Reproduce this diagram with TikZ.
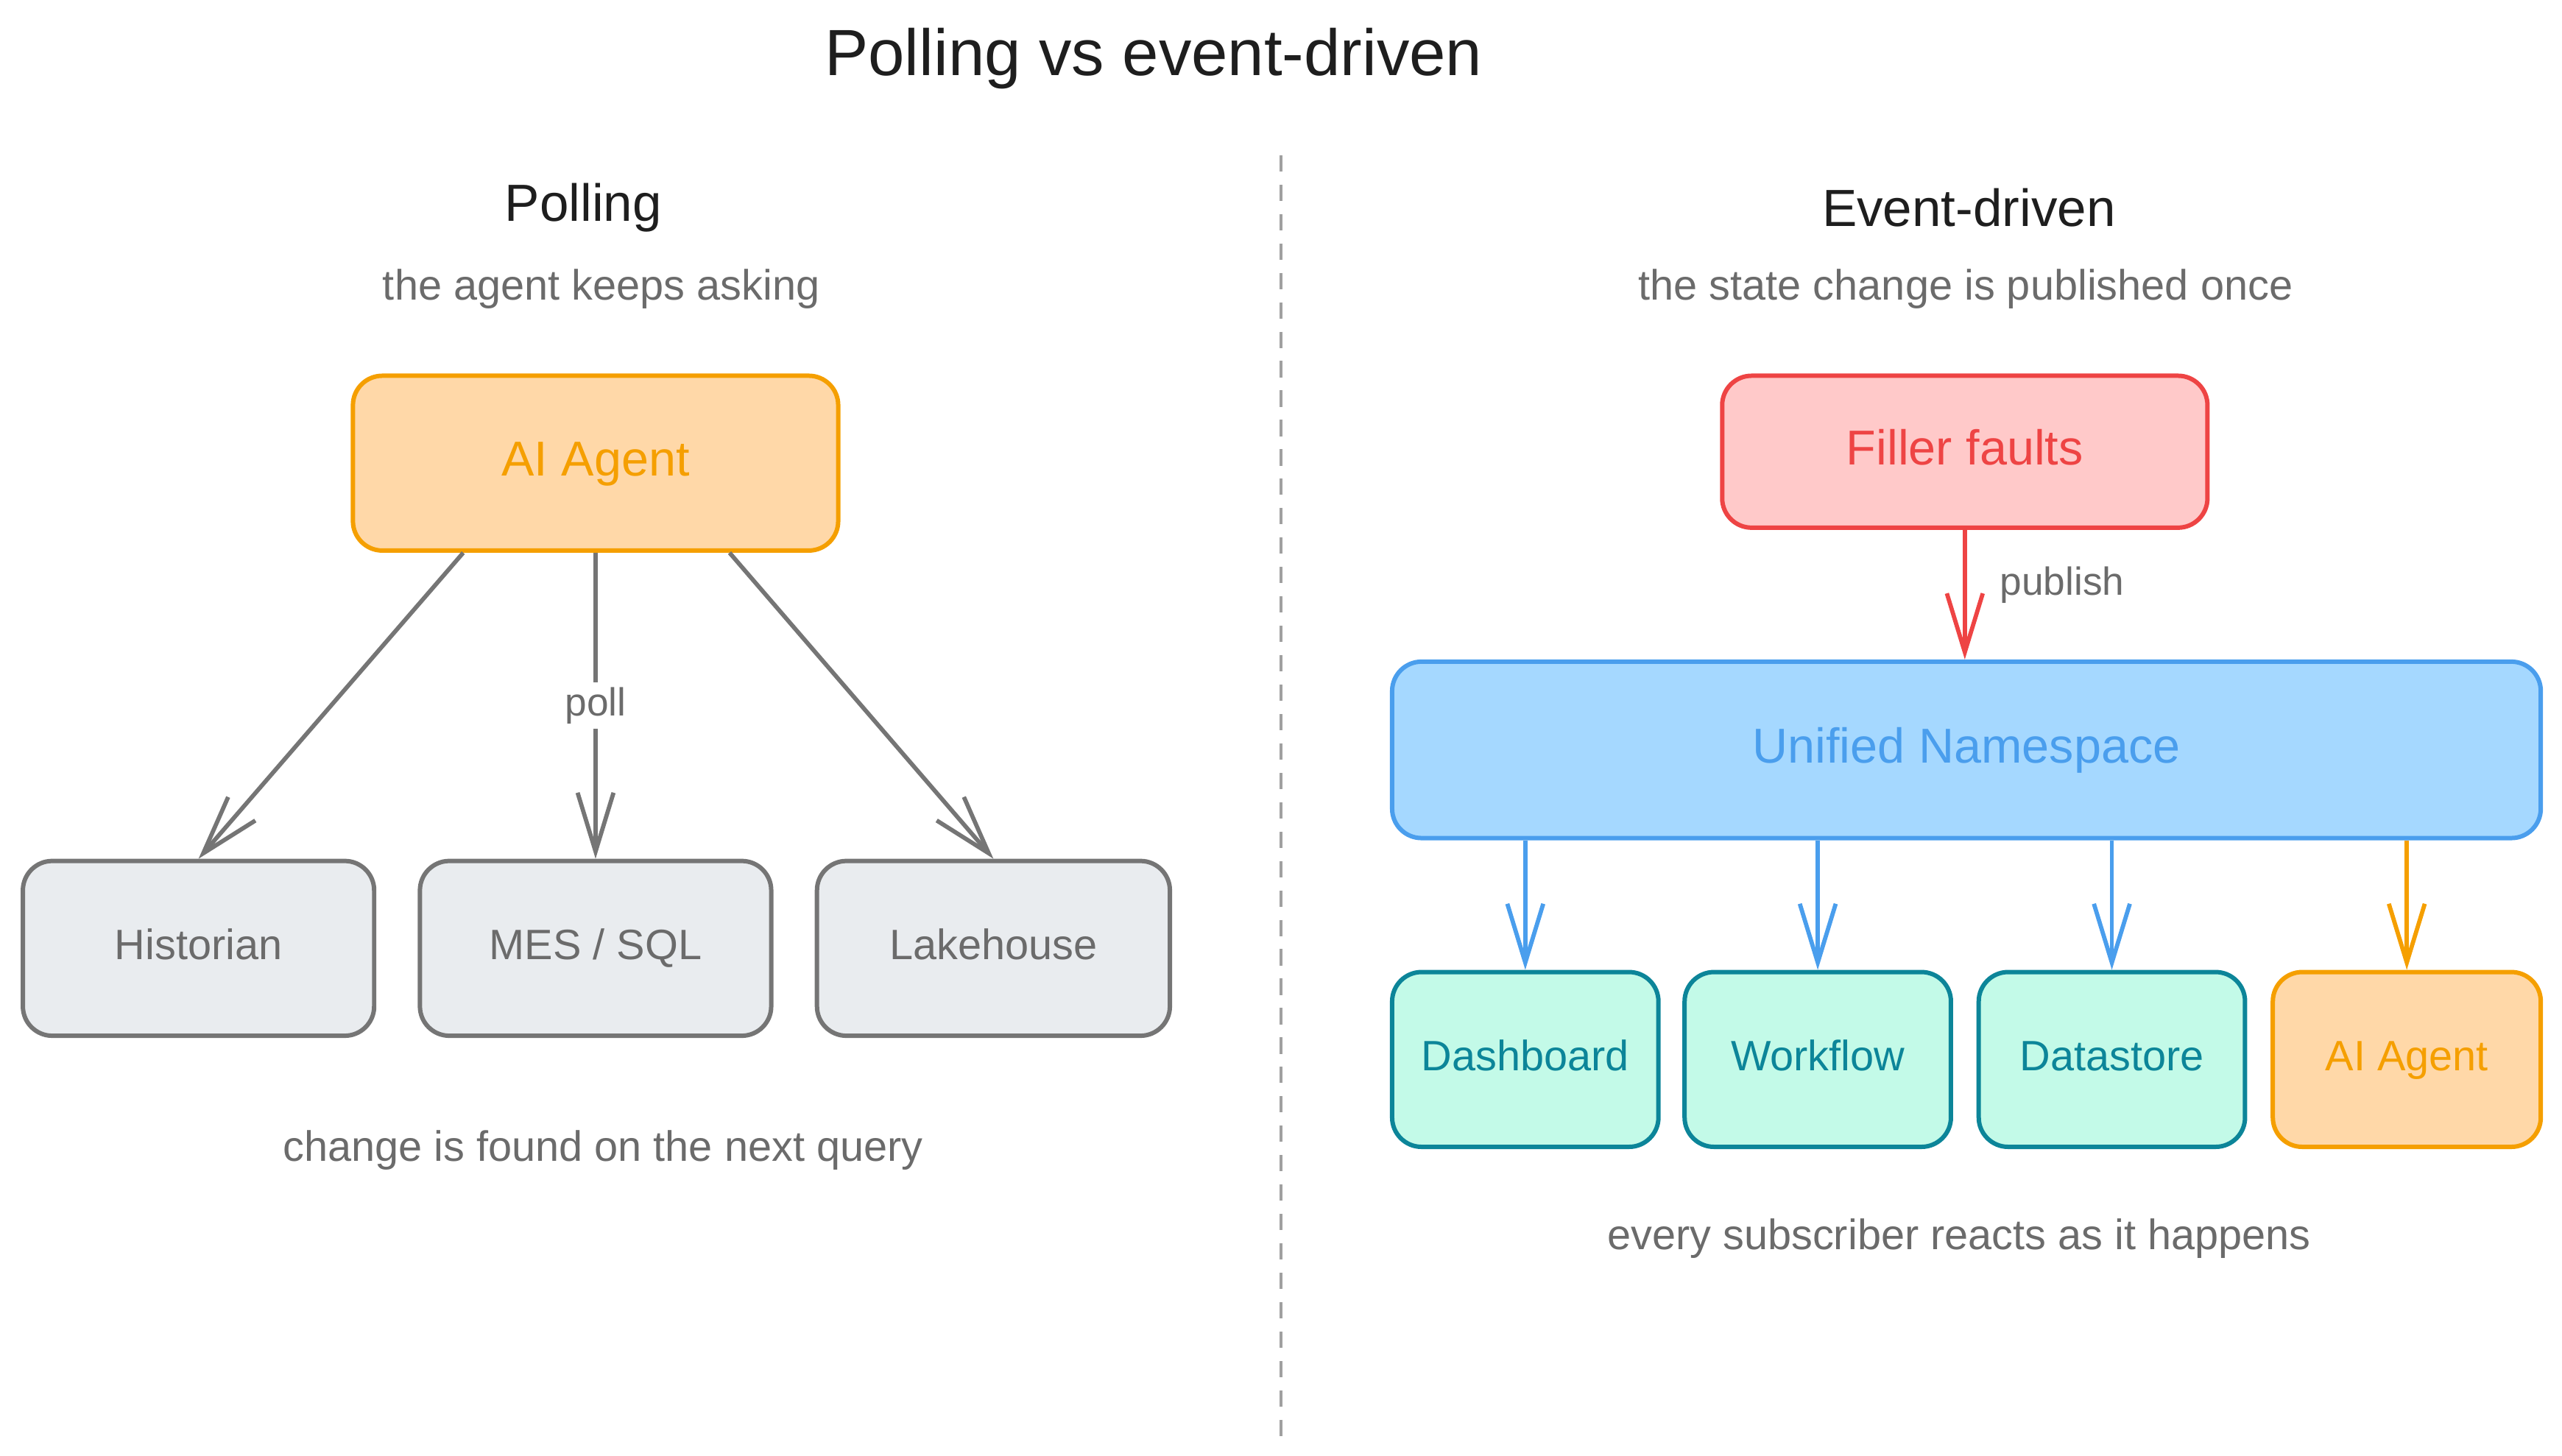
\documentclass[tikz,border=0pt]{standalone}
\usepackage{fontspec}
\setmainfont{Liberation Sans}
\usetikzlibrary{arrows.meta}
\definecolor{ink}{HTML}{1E1E1E}
\definecolor{grayt}{HTML}{6B6B6B}
\definecolor{grays}{HTML}{757575}
\definecolor{grayf}{HTML}{E9ECEF}
\definecolor{orans}{HTML}{F59F00}
\definecolor{oranf}{HTML}{FFD8A8}
\definecolor{reds}{HTML}{EE4444}
\definecolor{redf}{HTML}{FFC9C9}
\definecolor{blues}{HTML}{4A9EED}
\definecolor{bluef}{HTML}{A5D8FF}
\definecolor{teals}{HTML}{0C8599}
\definecolor{tealf}{HTML}{C3FAE8}
\definecolor{dashc}{HTML}{A0A0A0}
\tikzset{
  box/.style={draw, rounded corners=18pt, line width=2.7pt, inner sep=0pt, align=center, text height=19pt, text depth=5pt},
  graybox/.style={box, draw=grays, fill=grayf, text=grayt, font=\fontsize{26}{30}\selectfont, minimum height=107pt},
  orangebox/.style={box, draw=orans, fill=oranf, text=orans},
  tealbox/.style={box, draw=teals, fill=tealf, text=teals, font=\fontsize{26}{30}\selectfont, minimum width=163pt, minimum height=107pt},
  conn/.style={line width=2.6pt, -{Straight Barb[length=36pt,width=22pt,line width=2.6pt]}},
  heading/.style={text=ink, font=\fontsize{32}{36}\selectfont},
  subt/.style={text=grayt, font=\fontsize{26}{30}\selectfont},
  lbl/.style={text=grayt, font=\fontsize{24}{28}\selectfont, fill=white, inner sep=3pt},
}
\begin{document}
\begin{tikzpicture}[x=1pt,y=-1pt]
\useasboundingbox (0,0) rectangle (1568,891);
% title
\node[text=ink, font=\fontsize{40}{46}\selectfont] (title) at (706,36) {Polling vs event-driven};
% divider
\coordinate (divtop) at (784,95);
\coordinate (divbot) at (784,880);
\draw[dashc, line width=1.6pt, dash pattern=on 10pt off 8pt] (divtop) -- (divbot);
% left panel
\node[heading] (lhead) at (357,127) {Polling};
\node[subt] (lsub) at (368,177) {the agent keeps asking};
\node[orangebox, font=\fontsize{30}{34}\selectfont, text height=22pt, text depth=6pt, minimum width=297pt, minimum height=107pt] (agent) at (364.5,283.5) {AI Agent};
\node[graybox, minimum width=215pt] (hist) at (121.5,580.5) {Historian};
\node[graybox, minimum width=215pt] (mes) at (364.5,580.5) {MES / SQL};
\node[graybox, minimum width=216pt] (lake) at (608,580.5) {Lakehouse};
\draw[conn, grays] ([xshift=-81pt]agent.south) -- (hist.north);
\draw[conn, grays] (agent.south) -- node[lbl] (poll) {poll} (mes.north);
\draw[conn, grays] ([xshift=82pt]agent.south) -- (lake.north);
\node[subt] (lcap) at (369,704) {change is found on the next query};
% right panel
\node[heading] (rhead) at (1205,127) {Event-driven};
\node[subt] (rsub) at (1203,177) {the state change is published once};
\node[box, draw=reds, fill=redf, text=reds, font=\fontsize{30}{34}\selectfont, text height=22pt, text depth=6pt, minimum width=297pt, minimum height=93pt] (filler) at (1202.5,276.5) {Filler faults};
\node[box, draw=blues, fill=bluef, text=blues, font=\fontsize{30}{34}\selectfont, text height=22pt, text depth=6pt, minimum width=703pt, minimum height=108pt] (uns) at (1203.5,459) {Unified Namespace};
\draw[conn, reds] (filler.south) -- (filler.south |- uns.north);
\node[text=grayt, font=\fontsize{24}{28}\selectfont] (pub) at (1262,358) {publish};
\node[tealbox] (dash) at (933.5,648.5) {Dashboard};
\node[tealbox] (work) at (1112.5,648.5) {Workflow};
\node[tealbox] (data) at (1292.5,648.5) {Datastore};
\node[orangebox, font=\fontsize{26}{30}\selectfont, minimum width=164pt, minimum height=107pt] (agent2) at (1473,648.5) {AI Agent};
\draw[conn, blues] (uns.south -| dash.north) -- (dash.north);
\draw[conn, blues] (uns.south -| work.north) -- (work.north);
\draw[conn, blues] (uns.south -| data.north) -- (data.north);
\draw[conn, orans] (uns.south -| agent2.north) -- (agent2.north);
\node[subt] (rcap) at (1199,758) {every subscriber reacts as it happens};
\end{tikzpicture}
\end{document}
